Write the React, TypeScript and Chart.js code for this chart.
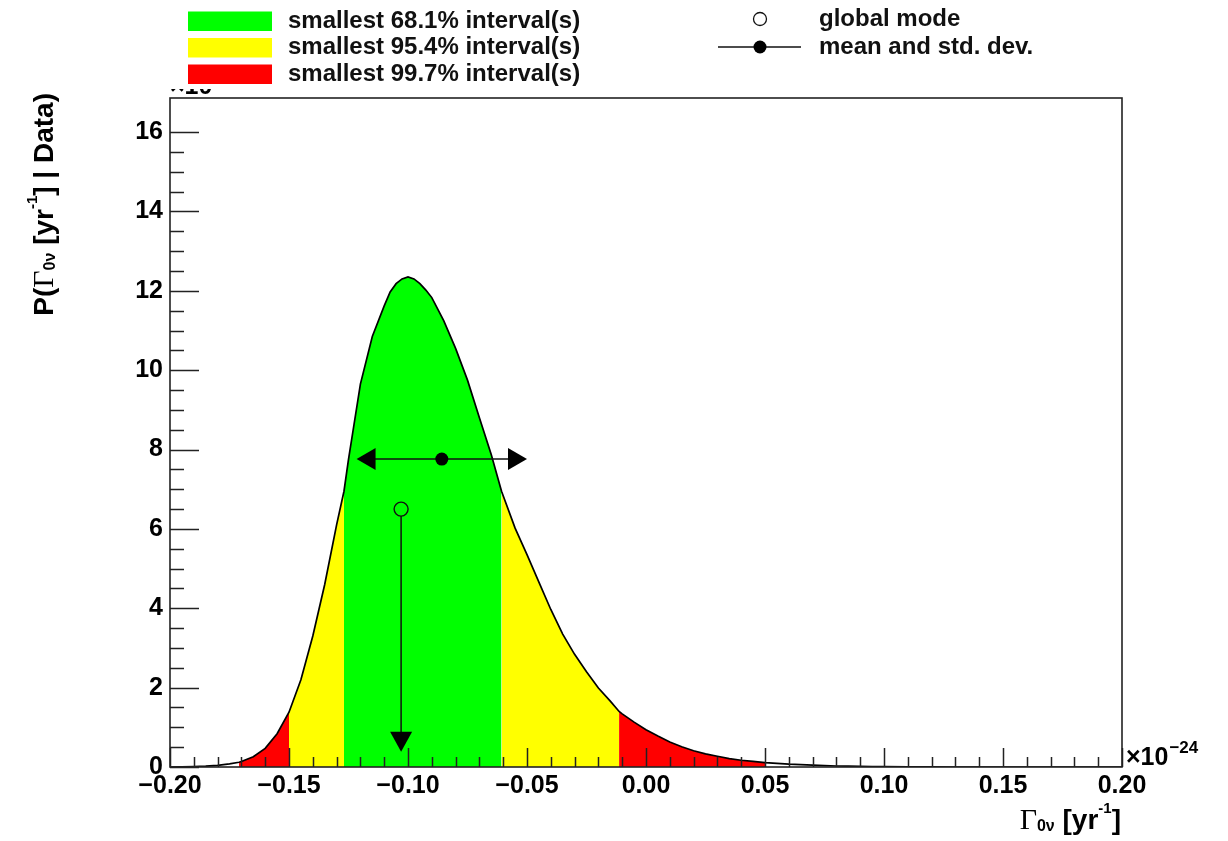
import React, { useEffect, useRef } from "react";
import { Chart, registerables } from "chart.js";

Chart.register(...registerables);

// Posterior density P(Γ0ν | Data) (x in units of 1e-24 /yr, y in units of the ×10 factor)
const gammaValues = [
  -0.2, -0.195, -0.19, -0.185, -0.18, -0.175, -0.171, -0.17, -0.165, -0.16, -0.155, -0.15,
  -0.145, -0.14, -0.135, -0.13, -0.1269, -0.125, -0.12, -0.115, -0.11, -0.1075, -0.105,
  -0.1025, -0.1, -0.0975, -0.095, -0.0925, -0.09, -0.085, -0.08, -0.075, -0.07, -0.065,
  -0.0607, -0.055, -0.05, -0.045, -0.04, -0.035, -0.03, -0.025, -0.02, -0.015, -0.0113,
  -0.01, -0.005, 0.0, 0.005, 0.01, 0.015, 0.02, 0.025, 0.03, 0.035, 0.04, 0.045, 0.05,
  0.055, 0.06, 0.065, 0.07, 0.075, 0.08, 0.085, 0.09, 0.095, 0.1, 0.11, 0.12, 0.13, 0.2,
];
const posteriorDensity = [
  0, 0.003, 0.01, 0.02, 0.04, 0.08, 0.12, 0.14, 0.26, 0.47, 0.84, 1.38,
  2.2, 3.3, 4.6, 6.1, 6.95, 7.75, 9.65, 10.85, 11.62, 11.97, 12.18,
  12.3, 12.35, 12.3, 12.18, 12.02, 11.83, 11.25, 10.55, 9.75, 8.8, 7.87,
  6.95, 6.02, 5.35, 4.66, 3.97, 3.35, 2.84, 2.4, 1.99, 1.66, 1.4,
  1.34, 1.13, 0.94, 0.78, 0.63, 0.51, 0.41, 0.33, 0.27, 0.21, 0.17, 0.14, 0.11,
  0.09, 0.07, 0.06, 0.045, 0.035, 0.025, 0.02, 0.015, 0.01, 0.007, 0.003, 0.001, 0, 0,
];

// Smallest-interval band edges and colours (99.7 / 95.4 / 68.1 / 95.4 / 99.7)
const bandEdges = [-0.171, -0.15, -0.1269, -0.0607, -0.0113, 0.05];
const bandColors = ["#ff0000", "#ffff00", "#00ff00", "#ffff00", "#ff0000"];

const legendLabels = [
  "smallest 68.1% interval(s)",
  "smallest 95.4% interval(s)",
  "smallest 99.7% interval(s)",
];
const legendColors = ["#00ff00", "#ffff00", "#ff0000"];

// Mean and standard deviation, global mode
const meanValue = -0.0858;
const stdDev = 0.0358;
const meanMarkerHeight = 7.76;
const modeValue = -0.1029;
const modeMarkerHeight = 6.5;
const modeArrowEnd = 0.385;

const xMin = -0.2;
const xMax = 0.2;
const yMin = 0;
const yMax = 16.86;

const SANS = "'Liberation Sans', Arial, Helvetica, sans-serif";
const SERIF = "'Liberation Serif', 'Times New Roman', serif";

function bandPoints(lo: number, hi: number) {
  const pts: { x: number; y: number }[] = [];
  for (let i = 0; i < gammaValues.length; i++) {
    const x = gammaValues[i];
    if (x >= lo - 1e-9 && x <= hi + 1e-9) pts.push({ x, y: posteriorDensity[i] });
  }
  return pts;
}

type Seg = { t: string; font: string; dy: number };

function drawSegments(ctx: CanvasRenderingContext2D, segs: Seg[], endX: number, baseY: number) {
  let total = 0;
  for (const s of segs) {
    ctx.font = s.font;
    total += ctx.measureText(s.t).width;
  }
  let x = endX - total;
  ctx.textBaseline = "alphabetic";
  ctx.textAlign = "left";
  for (const s of segs) {
    ctx.font = s.font;
    ctx.fillText(s.t, x, baseY + s.dy);
    x += ctx.measureText(s.t).width;
  }
}

const titleSegs = (prefix: string, suffix: string): Seg[] => {
  const segs: Seg[] = [];
  if (prefix) segs.push({ t: prefix, font: `bold 28px ${SANS}`, dy: 0 });
  segs.push({ t: "Γ", font: `30px ${SERIF}`, dy: 0 });
  segs.push({ t: "0ν", font: `bold 16px ${SANS}`, dy: 2 });
  segs.push({ t: " [yr", font: `bold 28px ${SANS}`, dy: 0 });
  segs.push({ t: "-1", font: `bold 15px ${SANS}`, dy: -16 });
  segs.push({ t: "]" + suffix, font: `bold 28px ${SANS}`, dy: 0 });
  return segs;
};

const overlayPlugin = {
  id: "rootOverlay",
  afterDatasetsDraw(chart: any) {
    const ctx: CanvasRenderingContext2D = chart.ctx;
    const xs = chart.scales.x;
    const ys = chart.scales.y;
    ctx.save();
    ctx.strokeStyle = "#111";
    ctx.fillStyle = "#000";
    ctx.lineWidth = 1.5;

    // mean and std. dev. arrow
    const yM = ys.getPixelForValue(meanMarkerHeight);
    const xL = xs.getPixelForValue(meanValue - stdDev);
    const xR = xs.getPixelForValue(meanValue + stdDev);
    const xM = xs.getPixelForValue(meanValue);
    ctx.beginPath();
    ctx.moveTo(xL + 10, yM);
    ctx.lineTo(xR - 10, yM);
    ctx.stroke();
    ctx.beginPath();
    ctx.moveTo(xL, yM);
    ctx.lineTo(xL + 19, yM - 11);
    ctx.lineTo(xL + 19, yM + 11);
    ctx.closePath();
    ctx.fill();
    ctx.beginPath();
    ctx.moveTo(xR, yM);
    ctx.lineTo(xR - 19, yM - 11);
    ctx.lineTo(xR - 19, yM + 11);
    ctx.closePath();
    ctx.fill();
    ctx.beginPath();
    ctx.arc(xM, yM, 6.5, 0, Math.PI * 2);
    ctx.fill();

    // global mode marker and arrow
    const xMo = xs.getPixelForValue(modeValue);
    const yMo = ys.getPixelForValue(modeMarkerHeight);
    const yTip = ys.getPixelForValue(modeArrowEnd);
    ctx.lineWidth = 1.4;
    ctx.beginPath();
    ctx.arc(xMo, yMo, 7, 0, Math.PI * 2);
    ctx.stroke();
    ctx.lineWidth = 1.5;
    ctx.beginPath();
    ctx.moveTo(xMo, yMo + 7);
    ctx.lineTo(xMo, yTip - 10);
    ctx.stroke();
    ctx.beginPath();
    ctx.moveTo(xMo, yTip);
    ctx.lineTo(xMo - 11, yTip - 20);
    ctx.lineTo(xMo + 11, yTip - 20);
    ctx.closePath();
    ctx.fill();
    ctx.restore();
  },
  afterDraw(chart: any) {
    const ctx: CanvasRenderingContext2D = chart.ctx;
    const xs = chart.scales.x;
    const ys = chart.scales.y;
    const a = chart.chartArea;
    ctx.save();

    // inner ticks
    ctx.strokeStyle = "#222";
    ctx.lineWidth = 1.5;
    ctx.beginPath();
    for (const t of xs.ticks) {
      const k = Math.round(t.value * 100);
      if (Math.abs(t.value * 100 - k) > 1e-6) continue;
      const len = k % 5 === 0 ? 19 : 10;
      const px = Math.round(xs.getPixelForValue(t.value)) + 0.5;
      ctx.moveTo(px, a.bottom);
      ctx.lineTo(px, a.bottom - len);
    }
    for (const t of ys.ticks) {
      const k = Math.round(t.value * 2);
      if (Math.abs(t.value * 2 - k) > 1e-6) continue;
      const len = k % 4 === 0 ? 29 : 14;
      const py = Math.round(ys.getPixelForValue(t.value)) + 0.5;
      ctx.moveTo(a.left, py);
      ctx.lineTo(a.left + len, py);
    }
    ctx.stroke();

    // frame
    ctx.strokeStyle = "#222";
    ctx.lineWidth = 1.6;
    ctx.strokeRect(a.left, a.top, a.right - a.left, a.bottom - a.top);

    ctx.fillStyle = "#000";
    // clipped ×10 factor of the y axis
    ctx.save();
    ctx.beginPath();
    ctx.rect(a.left - 10, 89, 80, a.top - 89);
    ctx.clip();
    ctx.font = `bold 25px ${SANS}`;
    ctx.textAlign = "left";
    ctx.textBaseline = "alphabetic";
    ctx.fillText("×10", a.left, 94);
    ctx.restore();

    // x exponent
    ctx.textAlign = "left";
    ctx.textBaseline = "alphabetic";
    ctx.font = `bold 25px ${SANS}`;
    ctx.fillText("×10", a.right + 4, a.bottom - 2);
    const w10 = ctx.measureText("×10").width;
    ctx.font = `bold 17px ${SANS}`;
    ctx.fillText("−24", a.right + 4 + w10 + 1, a.bottom - 14);

    // x title
    drawSegments(ctx, titleSegs("", ""), a.right - 1, 829);

    // y title (rotated)
    ctx.save();
    ctx.translate(53, a.top - 5);
    ctx.rotate(-Math.PI / 2);
    drawSegments(ctx, titleSegs("P(", " | Data)"), 0, 0);
    ctx.restore();

    // legend (left)
    const boxX = 188;
    const boxW = 84;
    const rowsY = [21, 47.5, 74];
    for (let i = 0; i < legendLabels.length; i++) {
      ctx.fillStyle = legendColors[i];
      ctx.fillRect(boxX, rowsY[i] - 9.5, boxW, 19.5);
      ctx.fillStyle = "#111";
      ctx.font = `bold 24px ${SANS}`;
      ctx.textBaseline = "middle";
      ctx.textAlign = "left";
      ctx.fillText(legendLabels[i], 288, rowsY[i]);
    }

    // legend (right)
    ctx.strokeStyle = "#111";
    ctx.lineWidth = 1.3;
    ctx.beginPath();
    ctx.arc(760, 19, 6.5, 0, Math.PI * 2);
    ctx.stroke();
    ctx.lineWidth = 1.5;
    ctx.beginPath();
    ctx.moveTo(718, 47);
    ctx.lineTo(801, 47);
    ctx.stroke();
    ctx.fillStyle = "#000";
    ctx.beginPath();
    ctx.arc(760, 47, 6.5, 0, Math.PI * 2);
    ctx.fill();
    ctx.fillStyle = "#111";
    ctx.font = `bold 24px ${SANS}`;
    ctx.textBaseline = "middle";
    ctx.fillText("global mode", 819, 19);
    ctx.fillText("mean and std. dev.", 819, 47);

    ctx.restore();
  },
};

export default function App() {
  const ref = useRef<HTMLCanvasElement>(null);

  useEffect(() => {
    document.body.style.margin = "0";
    if (!ref.current) return;

    const curve = gammaValues.map((x, i) => ({ x, y: posteriorDensity[i] }));
    const bandSets = bandColors.map((c, i) => ({
      data: bandPoints(bandEdges[i], bandEdges[i + 1]),
      borderWidth: 0,
      borderColor: "rgba(0,0,0,0)",
      backgroundColor: c,
      fill: "origin",
      pointRadius: 0,
      tension: 0,
    }));

    const chart = new Chart(ref.current, {
      type: "line",
      data: {
        datasets: [
          {
            data: curve,
            borderColor: "#000",
            borderWidth: 1.7,
            fill: false,
            pointRadius: 0,
            tension: 0,
          },
          ...bandSets,
        ] as any,
      },
      options: {
        animation: false,
        responsive: false,
        events: [],
        layout: { padding: { left: 0, right: 106, top: 98, bottom: 0 } },
        plugins: { legend: { display: false }, tooltip: { enabled: false } },
        scales: {
          x: {
            type: "linear",
            min: xMin,
            max: xMax,
            grid: { display: false, drawTicks: false },
            border: { display: false },
            ticks: {
              stepSize: 0.01,
              autoSkip: false,
              maxRotation: 0,
              padding: 4,
              color: "#000",
              font: { family: SANS, weight: "bold", size: 25 },
              callback: (v: any) => {
                const k = Math.round(Number(v) * 100);
                if (k % 5 !== 0) return "";
                const n = k / 100;
                if (k === 0) return "0.00";
                return (n < 0 ? "−" : "") + Math.abs(n).toFixed(2);
              },
            },
            afterFit: (s: any) => {
              s.height = 74;
            },
          },
          y: {
            type: "linear",
            min: yMin,
            max: yMax,
            grid: { display: false, drawTicks: false },
            border: { display: false },
            ticks: {
              stepSize: 0.5,
              autoSkip: false,
              padding: 7,
              color: "#000",
              font: { family: SANS, weight: "bold", size: 25 },
              callback: (v: any) => {
                const val = Number(v);
                const k = Math.round(val * 2);
                if (Math.abs(val * 2 - k) > 1e-6) return "";
                if (k % 4 !== 0) return "";
                return String(k / 2);
              },
            },
            afterFit: (s: any) => {
              s.width = 170;
            },
          },
        },
      } as any,
      plugins: [overlayPlugin],
    });
    return () => chart.destroy();
  }, []);

  return <canvas ref={ref} width={1228} height={841} style={{ display: "block" }} />;
}
